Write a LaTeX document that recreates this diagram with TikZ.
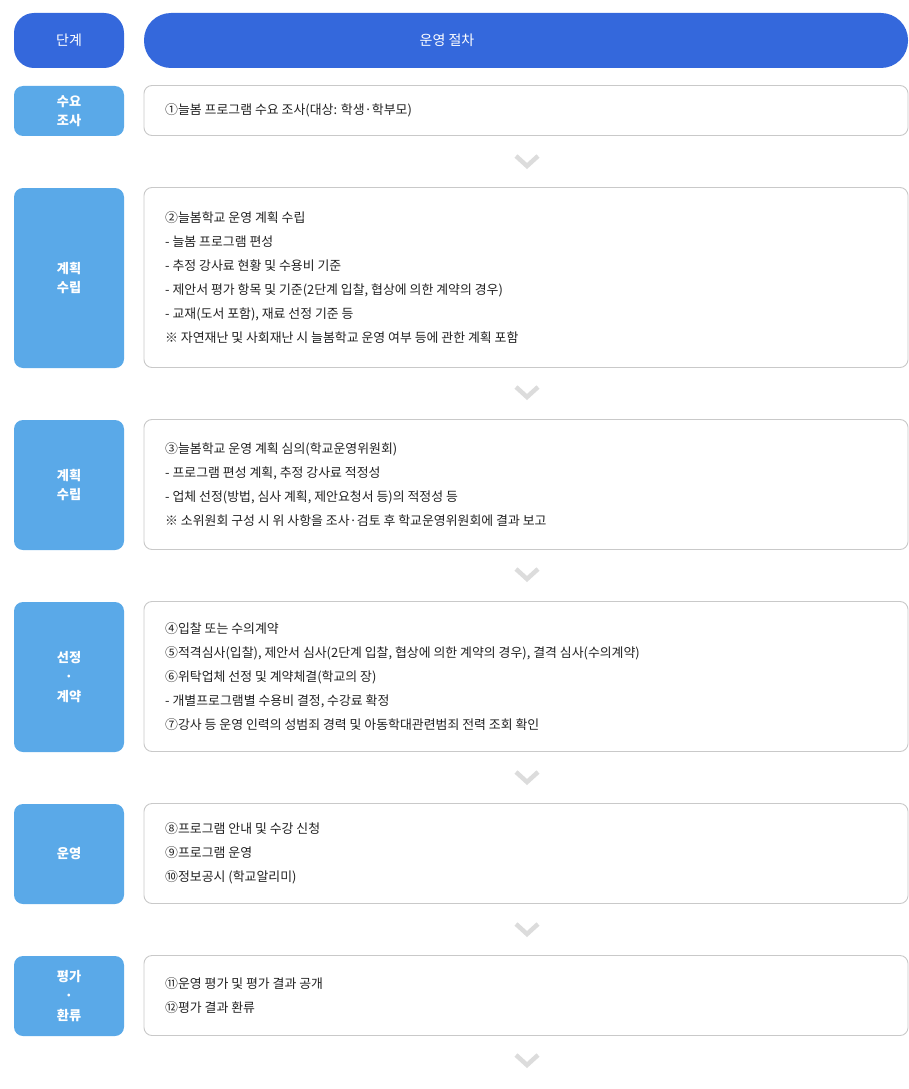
\documentclass[tikz,border=0pt]{standalone}
\usepackage{fontspec}
\setmainfont{Noto Sans CJK KR}
\usetikzlibrary{calc}
\definecolor{hdr}{HTML}{3468DC}
\definecolor{lbl}{HTML}{5AA9E8}
\definecolor{bdr}{HTML}{C9C9C9}
\definecolor{txt}{HTML}{222222}
\definecolor{chv}{HTML}{DCDCDC}
\tikzset{
  hdrbox/.style={fill=hdr, draw=none, text=white, font=\fontsize{14}{16}\selectfont},
  lblbox/.style={fill=lbl, draw=none, rounded corners=9pt, text=white, align=center,
                 font=\bfseries\fontsize{13.2}{19.5}\selectfont},
  itembox/.style={fill=white, draw=bdr, line width=0.9pt, rounded corners=8pt},
  itemtext/.style={anchor=west, align=left, text=txt, inner sep=0pt,
                   font=\fontsize{12.9}{24}\selectfont},
  chev/.style={draw=chv, line width=4.5pt, line cap=butt, line join=miter}
}
\newcommand{\rowbox}[5]{% name, top, bottom, label, text
  \pgfmathsetmacro{\rh}{#3-#2}%
  \pgfmathsetmacro{\rc}{(#2+#3)/2}%
  \node[lblbox, minimum width=110pt, minimum height=\rh pt] (#1l) at (69,\rc+0.5) {#4};
  \node[itembox, minimum width=764pt, minimum height=\rh pt] (#1r) at (526,\rc) {};
  \node[itemtext] (#1t) at (165,\rc) {#5};
}
\begin{document}
\begin{tikzpicture}[x=1pt,y=-1pt]
\useasboundingbox (0,0) rectangle (909,1089);
\node[hdrbox, rounded corners=20pt, minimum width=110pt, minimum height=55pt] (h1) at (69,40.5) {단계};
\node[hdrbox, rounded corners=27pt, minimum width=764pt, minimum height=55pt] (h2) at (526,40.5) {};
\node[text=white, font=\fontsize{14}{16}\selectfont] (h2t) at (447,40.5) {운영 절차};

\rowbox{a}{85.5}{135.5}{수요\\조사}{①늘봄 프로그램 수요 조사(대상: 학생·학부모)}
\rowbox{b}{187.5}{367.5}{계획\\수립}{②늘봄학교 운영 계획 수립\\- 늘봄 프로그램 편성\\- 추정 강사료 현황 및 수용비 기준\\- 제안서 평가 항목 및 기준(2단계 입찰, 협상에 의한 계약의 경우)\\- 교재(도서 포함), 재료 선정 기준 등\\※ 자연재난 및 사회재난 시 늘봄학교 운영 여부 등에 관한 계획 포함}
\rowbox{c}{419.5}{549.5}{계획\\수립}{③늘봄학교 운영 계획 심의(학교운영위원회)\\- 프로그램 편성 계획, 추정 강사료 적정성\\- 업체 선정(방법, 심사 계획, 제안요청서 등)의 적정성 등\\※ 소위원회 구성 시 위 사항을 조사·검토 후 학교운영위원회에 결과 보고}
\rowbox{d}{601.5}{751.5}{선정\\·\\계약}{④입찰 또는 수의계약\\⑤적격심사(입찰), 제안서 심사(2단계 입찰, 협상에 의한 계약의 경우), 결격 심사(수의계약)\\⑥위탁업체 선정 및 계약체결(학교의 장)\\- 개별프로그램별 수용비 결정, 수강료 확정\\⑦강사 등 운영 인력의 성범죄 경력 및 아동학대관련범죄 전력 조회 확인}
\rowbox{e}{803.5}{903.5}{운영}{⑧프로그램 안내 및 수강 신청\\⑨프로그램 운영\\⑩정보공시 (학교알리미)}
\rowbox{f}{955.5}{1035.5}{평가\\·\\환류}{⑪운영 평가 및 평가 결과 공개\\⑫평가 결과 환류}

\foreach \cy in {161,392,574,777,929,1060}{
  \draw[chev] (516,{\cy-5}) -- (527,{\cy+5}) -- (538,{\cy-5});
}
\end{tikzpicture}
\end{document}
